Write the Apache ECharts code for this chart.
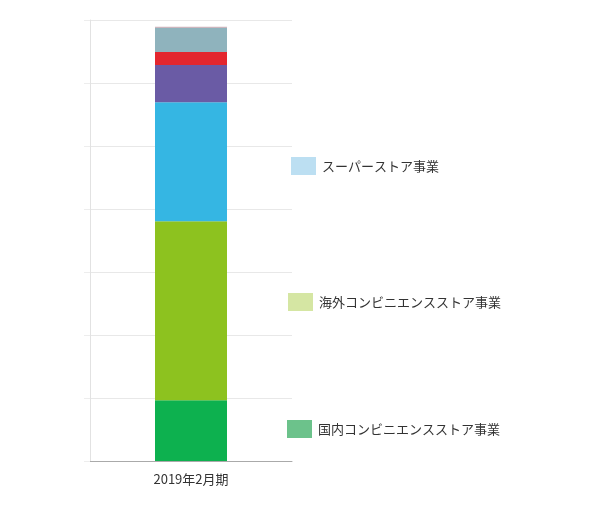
<!DOCTYPE html>
<html>
<head>
<meta charset="utf-8">
<script src="https://cdn.jsdelivr.net/npm/echarts@6/dist/echarts.min.js"></script>
<style>
html, body { margin: 0; padding: 0; background: #fff; }
#main { width: 600px; height: 508px; }
</style>
</head>
<body>
<div id="main"></div>
<script>
// カテゴリ（単位：億円、グラフから読み取り）
var categories = ['2019年2月期'];
var seriesNames = ['国内コンビニエンスストア事業', '海外コンビニエンスストア事業', 'スーパーストア事業', '百貨店事業', '金融関連事業', '専門店事業', 'その他の事業'];
var domesticCvs = [9650];
var overseasCvs = [28400];
var superstore = [18900];
var deptStore = [5900];
var finance = [2070];
var specialty = [3800];
var others = [200];

var barColors = ['#0db14f', '#8dc21f', '#35b6e3', '#6a5ba5', '#e3262e', '#8fb3bd', '#cbb5bd'];
var legendColors = ['#6cc28b', '#d5e6a3', '#bcdff2'];

var myChart = echarts.init(document.getElementById('main'));

var allData = [domesticCvs, overseasCvs, superstore, deptStore, finance, specialty, others];
var series = [];
for (var i = 0; i < allData.length; i++) {
    series.push({
        name: seriesNames[i],
        type: 'bar',
        stack: 'total',
        barWidth: 72,
        itemStyle: { color: barColors[i] },
        data: allData[i]
    });
}

// 凡例は3つだけ、それぞれ位置を指定
function oneLegend(idx, left, top) {
    return {
        left: left,
        top: top,
        padding: 0,
        orient: 'vertical',
        icon: 'rect',
        itemWidth: 25,
        itemHeight: 18,
        itemGap: 0,
        selectedMode: false,
        textStyle: { color: '#333', fontSize: 13, fontFamily: 'Noto Sans CJK JP', padding: [0, 0, 0, 1] },
        data: [{ name: seriesNames[idx], itemStyle: { color: legendColors[idx] } }]
    };
}

var option = {
    animation: false,
    grid: { left: 90, right: 308, top: 20, bottom: 47 },
    legend: [
        oneLegend(2, 291, 157),
        oneLegend(1, 288, 293),
        oneLegend(0, 287, 420)
    ],
    xAxis: {
        type: 'category',
        data: categories,
        axisLine: { lineStyle: { color: '#aaaaaa', width: 1 } },
        axisTick: { show: false },
        axisLabel: { color: '#333', fontSize: 13, margin: 12, fontFamily: 'Noto Sans CJK JP' }
    },
    yAxis: {
        type: 'value',
        min: 0,
        max: 70000,
        interval: 10000,
        axisLine: { show: true, lineStyle: { color: '#e2e2e2' } },
        axisTick: { show: true, length: 6, lineStyle: { color: '#ededed' } },
        axisLabel: { show: false },
        splitLine: { lineStyle: { color: '#e8e8e8' } }
    },
    series: series
};

myChart.setOption(option);
</script>
</body>
</html>
